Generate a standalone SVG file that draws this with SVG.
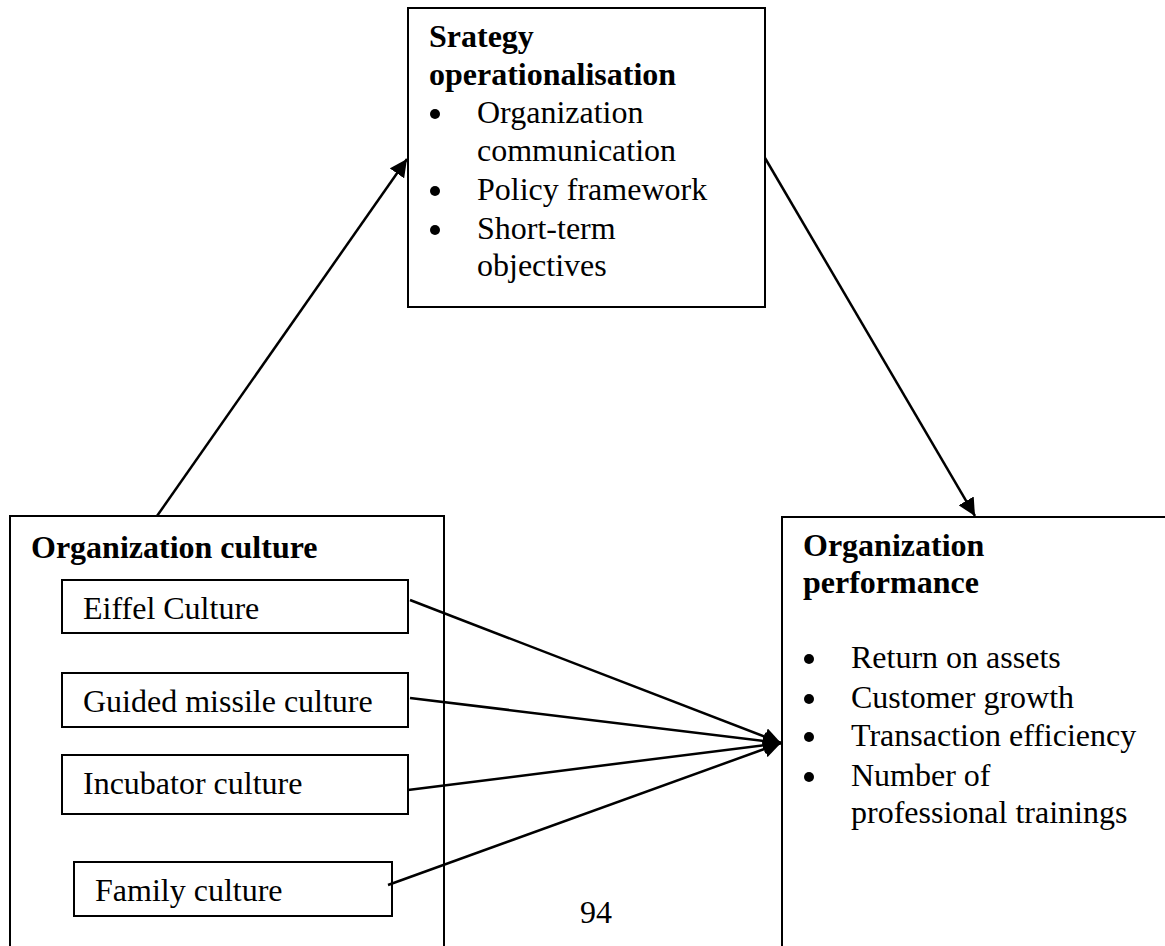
<svg xmlns="http://www.w3.org/2000/svg" width="1165" height="946" viewBox="0 0 1165 946">
<style>
.box{fill:#fff;stroke:#000;stroke-width:2}
.t{font-family:"Liberation Serif","Times New Roman",serif;font-size:32px;fill:#000}
.b{font-weight:bold}
.c{stroke:#000;stroke-width:2.5;fill:none}
</style>
<defs>
<marker id="ah" viewBox="0 0 10 10" refX="10" refY="5" markerWidth="7" markerHeight="7" markerUnits="strokeWidth" orient="auto">
<path d="M0,0 L10,5 L0,10 z" fill="#000"/>
</marker>
</defs>
<rect width="1165" height="946" fill="#fff"/>
<g id="strategy">
<rect class="box" x="408" y="8" width="357" height="299"/>
<text class="t b" x="429" y="47">Srategy</text>
<text class="t b" x="429" y="85">operationalisation</text>
<circle cx="435" cy="114" r="5"/>
<text class="t" x="477" y="123">Organization</text>
<text class="t" x="477" y="161">communication</text>
<circle cx="435" cy="191" r="5"/>
<text class="t" x="477" y="200">Policy framework</text>
<circle cx="435" cy="230" r="5"/>
<text class="t" x="477" y="239">Short-term</text>
<text class="t" x="477" y="276">objectives</text>
</g>
<g id="culture">
<rect class="box" x="10" y="516" width="434" height="440"/>
<text class="t b" x="31" y="558">Organization culture</text>
</g>
<g id="eiffel">
<rect class="box" x="62" y="580" width="346" height="53"/>
<text class="t" x="83" y="619">Eiffel Culture</text>
</g>
<g id="guided">
<rect class="box" x="62" y="673" width="346" height="54"/>
<text class="t" x="83" y="712">Guided missile culture</text>
</g>
<g id="incubator">
<rect class="box" x="62" y="755" width="346" height="59"/>
<text class="t" x="83" y="794">Incubator culture</text>
</g>
<g id="family">
<rect class="box" x="74" y="862" width="318" height="54"/>
<text class="t" x="95" y="901">Family culture</text>
</g>
<g id="performance">
<rect class="box" x="782" y="517" width="400" height="440"/>
<text class="t b" x="803" y="556">Organization</text>
<text class="t b" x="803" y="593">performance</text>
<circle cx="809" cy="659" r="5"/>
<text class="t" x="851" y="668">Return on assets</text>
<circle cx="809" cy="699" r="5"/>
<text class="t" x="851" y="708">Customer growth</text>
<circle cx="809" cy="737" r="5"/>
<text class="t" x="851" y="746">Transaction efficiency</text>
<circle cx="809" cy="777" r="5"/>
<text class="t" x="851" y="786">Number of</text>
<text class="t" x="851" y="823">professional trainings</text>
</g>
<g id="pagenum">
<text class="t" x="580" y="923">94</text>
</g>
<g id="connectors">
<line class="c" x1="157" y1="516" x2="407" y2="159" marker-end="url(#ah)"/>
<line class="c" x1="765" y1="158" x2="975" y2="516" marker-end="url(#ah)"/>
<line class="c" x1="410" y1="600" x2="781" y2="743" marker-end="url(#ah)"/>
<line class="c" x1="410" y1="698" x2="781" y2="743" marker-end="url(#ah)"/>
<line class="c" x1="408" y1="790" x2="781" y2="743" marker-end="url(#ah)"/>
<line class="c" x1="388" y1="885" x2="781" y2="743" marker-end="url(#ah)"/>
</g>
</svg>
